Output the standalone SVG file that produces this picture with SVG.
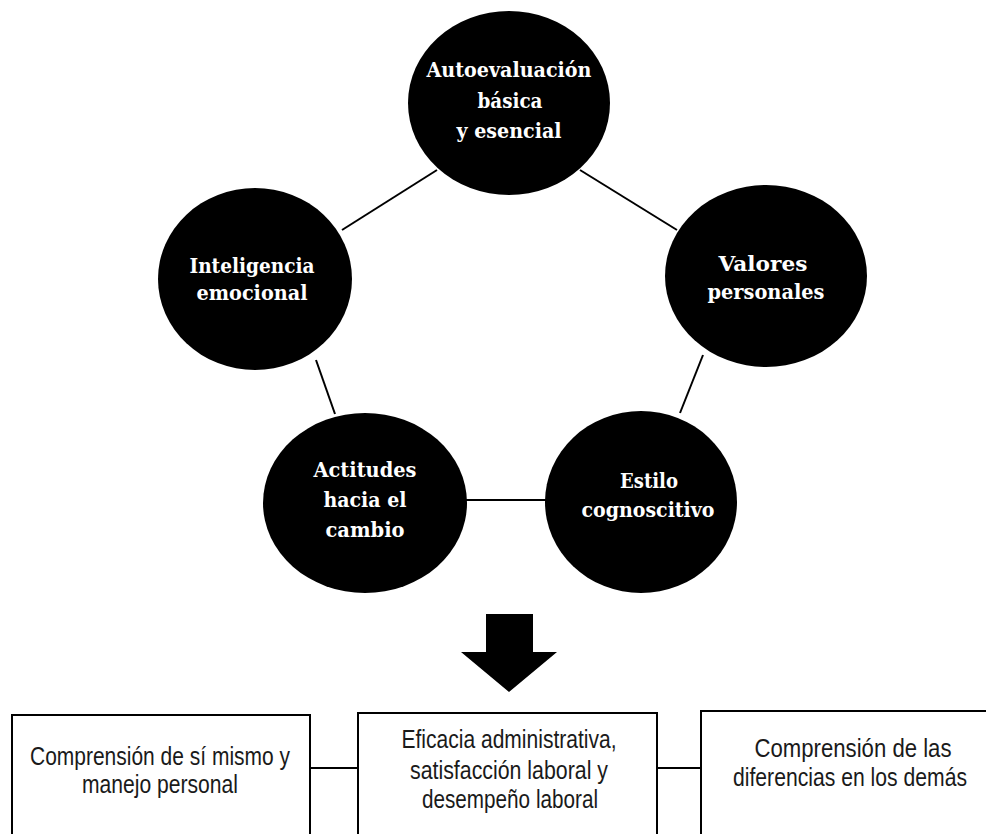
<svg xmlns="http://www.w3.org/2000/svg" width="986" height="834" viewBox="0 0 986 834">
<style>
.bg{fill:#ffffff}
.circ{fill:#000000}
.ct{font-family:"DejaVu Serif","Liberation Serif",serif;font-weight:bold;font-size:19.5px;fill:#ffffff;text-anchor:middle}
.conn{stroke:#000000;stroke-width:2;fill:none}
.box{fill:#ffffff;stroke:#000000;stroke-width:2}
.bt{font-family:"Liberation Sans",Arial,sans-serif;font-size:25px;fill:#1a1a1a;text-anchor:middle}
.arrow{fill:#000000}
</style>
<rect class="bg" x="0" y="0" width="986" height="834"/>
<g id="connectors">
  <line class="conn" x1="437" y1="170" x2="342" y2="230"/>
  <line class="conn" x1="580" y1="170" x2="677" y2="230"/>
  <line class="conn" x1="316" y1="360" x2="335" y2="414"/>
  <line class="conn" x1="703" y1="355" x2="680" y2="413"/>
  <line class="conn" x1="466" y1="500" x2="546" y2="500"/>
  <line class="conn" x1="310" y1="768" x2="358" y2="768"/>
  <line class="conn" x1="657" y1="768" x2="701" y2="768"/>
</g>
<g id="node-autoevaluacion">
  <ellipse class="circ" cx="509" cy="103" rx="101" ry="92"/>
  <text class="ct" x="509" y="77" textLength="165" lengthAdjust="spacingAndGlyphs">Autoevaluación</text>
  <text class="ct" x="510" y="108" textLength="65" lengthAdjust="spacingAndGlyphs">básica</text>
  <text class="ct" x="509" y="138" textLength="105" lengthAdjust="spacingAndGlyphs">y esencial</text>
</g>
<g id="node-inteligencia">
  <ellipse class="circ" cx="255" cy="279" rx="97" ry="91"/>
  <text class="ct" x="252" y="273" textLength="125" lengthAdjust="spacingAndGlyphs">Inteligencia</text>
  <text class="ct" x="252" y="300" textLength="111" lengthAdjust="spacingAndGlyphs">emocional</text>
</g>
<g id="node-valores">
  <ellipse class="circ" cx="766" cy="276" rx="101" ry="91"/>
  <text class="ct" x="763" y="271" textLength="89" lengthAdjust="spacingAndGlyphs">Valores</text>
  <text class="ct" x="766" y="299" textLength="117" lengthAdjust="spacingAndGlyphs">personales</text>
</g>
<g id="node-actitudes">
  <ellipse class="circ" cx="365" cy="503" rx="102" ry="90"/>
  <text class="ct" x="365" y="477" textLength="103" lengthAdjust="spacingAndGlyphs">Actitudes</text>
  <text class="ct" x="365" y="507" textLength="83" lengthAdjust="spacingAndGlyphs">hacia el</text>
  <text class="ct" x="365" y="537" textLength="79" lengthAdjust="spacingAndGlyphs">cambio</text>
</g>
<g id="node-estilo">
  <ellipse class="circ" cx="641" cy="502" rx="96" ry="91"/>
  <text class="ct" x="649" y="488" textLength="58" lengthAdjust="spacingAndGlyphs">Estilo</text>
  <text class="ct" x="648" y="517" textLength="133" lengthAdjust="spacingAndGlyphs">cognoscitivo</text>
</g>
<g id="arrow">
  <polygon class="arrow" points="486,614 533,614 533,652 557,652 509,692 461,652 486,652"/>
</g>
<g id="box-comprension-si-mismo">
  <rect class="box" x="12" y="715" width="298" height="140"/>
  <text class="bt" x="160" y="765" textLength="260" lengthAdjust="spacingAndGlyphs">Comprensión de sí mismo y</text>
  <text class="bt" x="160" y="793" textLength="156" lengthAdjust="spacingAndGlyphs">manejo personal</text>
</g>
<g id="box-eficacia">
  <rect class="box" x="358" y="713" width="299" height="140"/>
  <text class="bt" x="509" y="748" textLength="215" lengthAdjust="spacingAndGlyphs">Eficacia administrativa,</text>
  <text class="bt" x="509" y="779" textLength="198" lengthAdjust="spacingAndGlyphs">satisfacción laboral y</text>
  <text class="bt" x="510" y="808" textLength="176" lengthAdjust="spacingAndGlyphs">desempeño laboral</text>
</g>
<g id="box-comprension-demas">
  <path class="box" d="M701,850 V711 H990"/>
  <text class="bt" x="853" y="757" textLength="197" lengthAdjust="spacingAndGlyphs">Comprensión de las</text>
  <text class="bt" x="850" y="786" textLength="234" lengthAdjust="spacingAndGlyphs">diferencias en los demás</text>
</g>
</svg>
